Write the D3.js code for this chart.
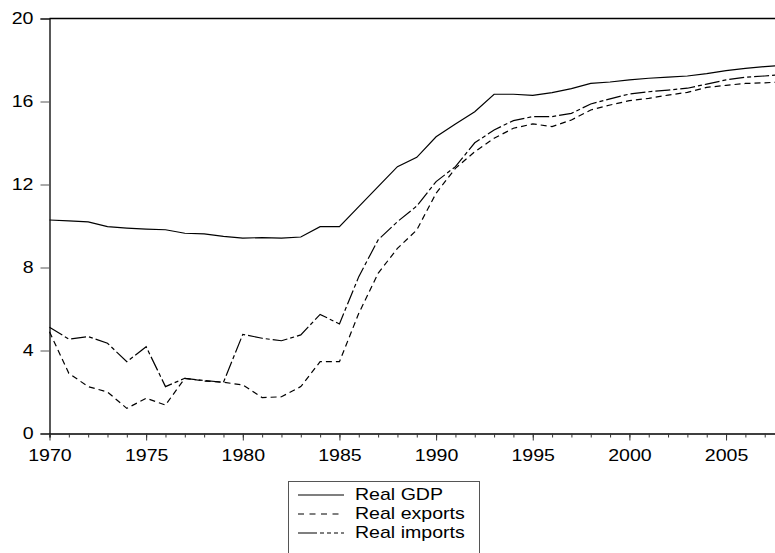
<!DOCTYPE html>
<html>
<head>
<meta charset="utf-8">
<script src="https://cdn.jsdelivr.net/npm/d3@7"></script>
<style>
  body { margin: 0; background: #fff; }
  svg { display: block; font-family: "Liberation Sans", Arial, sans-serif; }
</style>
</head>
<body>
<div id="chart"></div>
<script>
// Years on the x axis
const years = d3.range(1970, 2009);

// Series values (log scale levels)
const realGDP = [10.29, 10.25, 10.2, 9.97, 9.9, 9.85, 9.82, 9.65, 9.62, 9.5,
  9.42, 9.44, 9.42, 9.47, 9.97, 9.97, 10.93, 11.9, 12.86, 13.31,
  14.3, 14.92, 15.51, 16.35, 16.35, 16.3, 16.43, 16.62, 16.87, 16.94,
  17.04, 17.12, 17.17, 17.23, 17.34, 17.49, 17.6, 17.68, 17.75];
const realExports = [4.9, 2.9, 2.26, 2.0, 1.21, 1.7, 1.37, 2.66, 2.53, 2.47,
  2.34, 1.73, 1.77, 2.26, 3.46, 3.46, 5.79, 7.72, 8.92, 9.81,
  11.58, 12.78, 13.58, 14.23, 14.71, 14.92, 14.79, 15.11, 15.59, 15.83,
  16.04, 16.15, 16.31, 16.44, 16.68, 16.78, 16.87, 16.9, 16.95];
const realImports = [5.12, 4.55, 4.67, 4.35, 3.46, 4.18, 2.26, 2.66, 2.55, 2.47,
  4.78, 4.59, 4.47, 4.75, 5.74, 5.28, 7.56, 9.33, 10.21, 10.96,
  12.14, 12.86, 14.01, 14.63, 15.08, 15.27, 15.27, 15.43, 15.88, 16.13,
  16.36, 16.47, 16.55, 16.64, 16.84, 17.04, 17.17, 17.23, 17.3];

const seriesNames = ["Real GDP", "Real exports", "Real imports"];
const yTicks = [0, 4, 8, 12, 16, 20];
const xLabelYears = [1970, 1975, 1980, 1985, 1990, 1995, 2000, 2005];

const width = 775, height = 553;
const plotLeft = 49.5, plotTop = 18.5, plotBottom = 433.5;
const stretch = 1.15; // the original text looks a bit wide

const x = d3.scaleLinear().domain([1970, 2008]).range([plotLeft, plotLeft + 38 * 19.33]);
const y = d3.scaleLinear().domain([0, 20]).range([plotBottom, plotTop]);

const svg = d3.select("#chart").append("svg")
  .attr("width", width)
  .attr("height", height);

// widen a text selection horizontally
function widen(sel) {
  sel.each(function() {
    const w = this.getComputedTextLength();
    d3.select(this).attr("textLength", w * stretch).attr("lengthAdjust", "spacingAndGlyphs");
  });
}

// line styles for each series
const dashes = [null, "6,4", "15,3,4,3"];
const legendDashes = [null, "6,5.5", "19,3,4,3,4,3,4,3"];
const series = [realGDP, realExports, realImports];

const line = d3.line()
  .x((d, i) => x(years[i]))
  .y(d => y(d));

series.forEach((s, k) => {
  svg.append("path")
    .datum(s)
    .attr("fill", "none")
    .attr("stroke", "#000")
    .attr("stroke-width", 1.2)
    .attr("stroke-dasharray", dashes[k])
    .attr("d", line);
});

// y axis
const yAxis = svg.append("g")
  .attr("transform", `translate(${plotLeft},0)`)
  .call(d3.axisLeft(y).tickValues(yTicks).tickSize(9).tickPadding(7).tickFormat(d3.format("d")));
yAxis.select(".domain").attr("stroke", "#000").attr("stroke-width", 1.3);
yAxis.selectAll(".tick line").attr("stroke", "#555");
yAxis.selectAll("text").attr("font-size", 17).attr("fill", "#000").call(widen);

// x axis: minor ticks for every year
const xMinor = svg.append("g")
  .attr("transform", `translate(0,${plotBottom})`)
  .call(d3.axisBottom(x).tickValues(years).tickSize(4).tickFormat(""));
xMinor.select(".domain").attr("stroke", "#000").attr("stroke-width", 1.3);
xMinor.selectAll(".tick line").attr("stroke", "#333");

const xMajor = svg.append("g")
  .attr("transform", `translate(0,${plotBottom})`)
  .call(d3.axisBottom(x).tickValues(xLabelYears).tickSize(7).tickPadding(8).tickFormat(d3.format("d")));
xMajor.select(".domain").remove();
xMajor.selectAll(".tick line").attr("stroke", "#333");
xMajor.selectAll("text").attr("font-size", 17).attr("fill", "#000").call(widen);

// top frame line
svg.append("line")
  .attr("x1", plotLeft).attr("x2", x(2008))
  .attr("y1", plotTop).attr("y2", plotTop)
  .attr("stroke", "#000").attr("stroke-width", 1.3);

// legend
const legend = svg.append("g");
legend.append("rect")
  .attr("x", 288.5).attr("y", 481.5)
  .attr("width", 191).attr("height", 80)
  .attr("fill", "#fff").attr("stroke", "#555").attr("stroke-width", 1);

seriesNames.forEach((name, k) => {
  const cy = 494 + k * 19;
  legend.append("line")
    .attr("x1", 298).attr("x2", 344)
    .attr("y1", cy + 1).attr("y2", cy + 1)
    .attr("stroke", "#000").attr("stroke-width", 1.2)
    .attr("stroke-dasharray", legendDashes[k]);
  legend.append("text")
    .attr("x", 355).attr("y", cy + 6)
    .attr("font-size", 17)
    .text(name)
    .call(widen);
});
</script>
</body>
</html>
